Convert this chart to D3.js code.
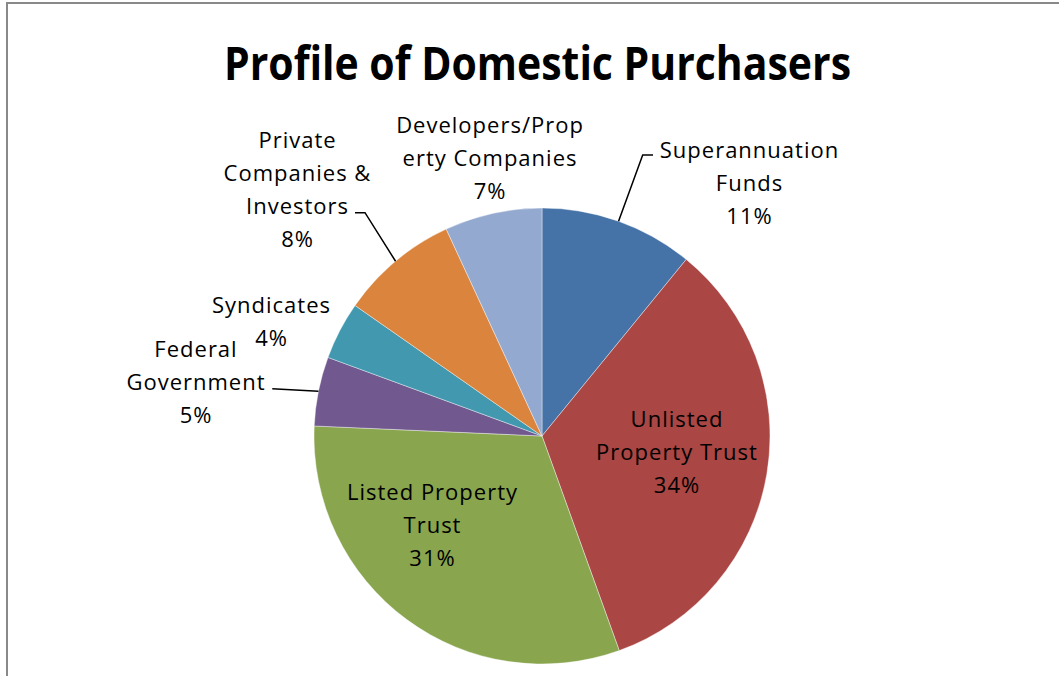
<!DOCTYPE html>
<html>
<head>
<meta charset="utf-8">
<script src="https://cdn.jsdelivr.net/npm/d3@7"></script>
<style>
  html, body { margin: 0; padding: 0; background: #fff; }
  svg { display: block; }
</style>
</head>
<body>
<svg id="chart" width="1059" height="676"></svg>
<script>
// ---- data ----
const title = "Profile of Domestic Purchasers";
const categories = [
  "Superannuation Funds",
  "Unlisted Property Trust",
  "Listed Property Trust",
  "Federal Government",
  "Syndicates",
  "Private Companies & Investors",
  "Developers/Property Companies"
];
const values = [10.9, 33.6, 31.2, 4.9, 4.1, 8.4, 6.9];
const colors = ["#4572A7", "#AA4643", "#89A54E", "#71588F", "#4198AF", "#DB843D", "#93A9CF"];
// label text lines as wrapped in the chart
const labelLines = [
  ["Superannuation", "Funds"],
  ["Unlisted", "Property Trust"],
  ["Listed Property", "Trust"],
  ["Federal", "Government"],
  ["Syndicates"],
  ["Private", "Companies &", "Investors"],
  ["Developers/Prop", "erty Companies"]
];

// ---- layout (positions relative to pie centre) ----
const W = 1059, H = 676;
const cx = 542, cy = 436, R = 228;
const lineH = 33;
const labelPos = [
  { x: 207, y: -278 },
  { x: 134.5, y: -9.3 },
  { x: -110, y: 64 },
  { x: -346.5, y: -79.3 },
  { x: -271, y: -123 },
  { x: -245, y: -288 },
  { x: -52.5, y: -302.7 }
];
// leader elbows (relative to centre); null = no leader
const leaders = [
  [{ x: 100.7, y: -281 }, { x: 111, y: -281 }],
  null,
  null,
  [{ x: -269.7, y: -47.3 }],
  null,
  [{ x: -177, y: -223.3 }, { x: -187, y: -223.3 }],
  null
];

const svg = d3.select("#chart");

// outer chart border
svg.append("rect")
  .attr("x", 7).attr("y", 3)
  .attr("width", W + 20).attr("height", H + 20)
  .attr("fill", "#fff")
  .attr("stroke", "#898989")
  .attr("stroke-width", 2);

// title
svg.append("text")
  .attr("x", 537.5).attr("y", 80)
  .attr("text-anchor", "middle")
  .attr("font-family", "'Open Sans', 'Noto Sans', sans-serif")
  .attr("font-weight", "bold")
  .attr("font-size", 47)
  .attr("textLength", 627)
  .attr("lengthAdjust", "spacingAndGlyphs")
  .attr("fill", "#000")
  .text(title);

const pie = d3.pie().sort(null).value(d => d)(values);
const arc = d3.arc().innerRadius(0).outerRadius(R);

const g = svg.append("g").attr("transform", `translate(${cx},${cy})`);

g.selectAll("path.slice")
  .data(pie)
  .join("path")
  .attr("class", "slice")
  .attr("d", arc)
  .attr("fill", (d, i) => colors[i])
  .attr("stroke", "#ffffff")
  .attr("stroke-width", 0.4);

// leader lines: start on the arc edge at slice middle
pie.forEach((d, i) => {
  if (!leaders[i]) return;
  const a = (d.startAngle + d.endAngle) / 2;
  const start = { x: R * Math.sin(a), y: -R * Math.cos(a) };
  const pts = [start, ...leaders[i]];
  g.append("path")
    .attr("d", d3.line().x(p => p.x).y(p => p.y)(pts))
    .attr("fill", "none")
    .attr("stroke", "#000")
    .attr("stroke-width", 1.5);
});

// labels
pie.forEach((d, i) => {
  const lines = labelLines[i].concat([Math.round(values[i]) + "%"]);
  const t = g.append("text")
    .attr("text-anchor", "middle")
    .attr("font-family", "'Open Sans', 'Noto Sans', sans-serif")
    .attr("font-size", 22)
    .attr("letter-spacing", 1)
    .attr("fill", "#000");
  lines.forEach((ln, k) => {
    t.append("tspan")
      .attr("x", labelPos[i].x + 0.5)
      .attr("y", labelPos[i].y + k * lineH)
      .text(ln);
  });
});
</script>
</body>
</html>
